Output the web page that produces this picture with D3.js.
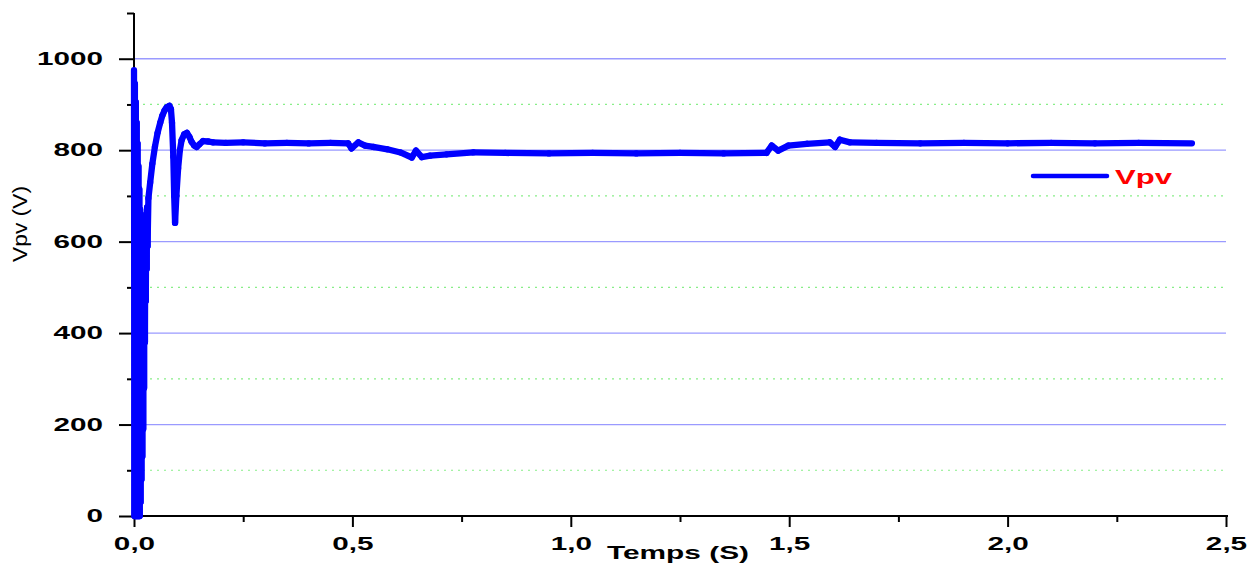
<!DOCTYPE html>
<html><head><meta charset="utf-8">
<script src="https://cdn.jsdelivr.net/npm/d3@7"></script>
<style>body{margin:0;background:#fff;} svg{display:block;}</style>
</head><body>
<svg id="c" width="1258" height="564"></svg>
<script>
// Vpv(t): t in s, Vpv in V
const time = [
  0,0.001,0.002,0.003,0.004,0.005,0.006,0.007,0.008,0.009,
  0.010,0.011,0.012,0.013,0.014,0.015,0.016,0.017,0.018,0.019,
  0.020,0.021,0.022,0.023,0.024,0.025,0.026,0.027,0.028,0.029,
  0.030,0.031,0.033,0.037,0.042,0.048,0.054,0.060,0.065,0.070,
  0.075,0.081,0.0845,0.087,0.090,0.092,0.094,0.097,0.101,0.105,
  0.109,0.115,0.121,0.127,0.132,0.138,0.1435,0.150,0.158,0.170,
  0.181,0.21,0.25,0.30,0.35,0.40,0.45,0.49,0.498,0.5135,
  0.529,0.548,0.58,0.61,0.636,0.6456,0.659,0.678,0.716,0.777,
  0.85,0.95,1.05,1.15,1.25,1.35,1.448,1.46,1.475,1.498,
  1.54,1.593,1.605,1.616,1.639,1.70,1.80,1.90,2.00,2.10,
  2.20,2.30,2.422];
const vpv = [
  975,0,945,0,905,0,860,0,815,0,
  765,0,715,0,670,30,640,80,630,130,
  630,190,635,280,640,380,650,470,660,540,
  675,590,695,729,770,808,838,860,876,887,
  894,897,890,860,786,700,641,700,760,800,
  822,835,838,829,818,810,807,813,820,819,
  817,816,817,815,816,815,816,815,804,817,
  810,807,802,795,784,799,785,788,791,795,
  794,793,794,793,794,793,794,810,799,810,
  814,817,807,823,817,816,815,816,815,816,
  815,816,815];
const xMajor = [0,0.5,1.0,1.5,2.0,2.5];
const xMinor = [0.25,0.75,1.25,1.75,2.25];
const xLabels = ["0,0","0,5","1,0","1,5","2,0","2,5"];
const yMajor = [0,200,400,600,800,1000];
const yMinor = [100,300,500,700,900,1100];
const seriesName = "Vpv";
const xTitle = "Temps (S)";
const yTitle = "Vpv (V)";

const svg = d3.select("#c");
const x = d3.scaleLinear().domain([0,2.5]).range([134,1226]);
const y = d3.scaleLinear().domain([0,1100]).range([516,13]);
const FONT = "'Liberation Sans', Arial, sans-serif";
const SX = 1.65;

// grid
svg.append("g").selectAll("line").data(yMinor.filter(v=>v<1100)).join("line")
  .attr("x1",x(0)+2).attr("x2",x(2.5)).attr("y1",d=>y(d)).attr("y2",d=>y(d))
  .attr("stroke","#88ee88").attr("stroke-width",1.2).attr("stroke-dasharray","2,5");
svg.append("g").selectAll("line").data(yMajor.filter(v=>v>0)).join("line")
  .attr("x1",x(0)).attr("x2",x(2.5)).attr("y1",d=>y(d)).attr("y2",d=>y(d))
  .attr("stroke","#9a9aff").attr("stroke-width",1.3);

// axes
const yAx = svg.append("g").attr("transform",`translate(${x(0)},0)`)
  .call(d3.axisLeft(y).tickValues(yMajor).tickSize(15).tickFormat(d3.format("d")));
yAx.select(".domain").remove();
yAx.selectAll(".tick line").attr("stroke","#000").attr("stroke-width",2);
yAx.selectAll(".tick text").attr("font-family",FONT).attr("font-weight","bold")
  .attr("font-size",18).attr("fill","#000").attr("x",-31/SX).attr("transform",`scale(${SX},1)`);
const yMin = svg.append("g").attr("transform",`translate(${x(0)},0)`)
  .call(d3.axisLeft(y).tickValues(yMinor).tickSize(7).tickFormat(""));
yMin.select(".domain").remove();
yMin.selectAll(".tick line").attr("stroke","#000").attr("stroke-width",2);

const xAx = svg.append("g").attr("transform",`translate(0,${y(0)})`)
  .call(d3.axisBottom(x).tickValues(xMajor).tickSize(11).tickFormat((d,i)=>xLabels[i]));
xAx.select(".domain").remove();
xAx.selectAll(".tick line").attr("stroke","#000").attr("stroke-width",2);
xAx.selectAll(".tick text").attr("font-family",FONT).attr("font-weight","bold")
  .attr("font-size",18).attr("fill","#000").attr("y",21).attr("transform",`scale(${SX},1)`);
const xMin = svg.append("g").attr("transform",`translate(0,${y(0)})`)
  .call(d3.axisBottom(x).tickValues(xMinor).tickSize(6).tickFormat(""));
xMin.select(".domain").remove();
xMin.selectAll(".tick line").attr("stroke","#000").attr("stroke-width",2);

svg.append("line").attr("x1",x(0)).attr("x2",x(0)).attr("y1",y(1100)).attr("y2",y(0)+1)
  .attr("stroke","#000").attr("stroke-width",2);
svg.append("line").attr("x1",x(0)-1).attr("x2",x(2.5)+2).attr("y1",y(0)).attr("y2",y(0))
  .attr("stroke","#000").attr("stroke-width",2);

// series: drawn segment by segment (round caps) so the dense start-up band fills solidly
const idx = d3.range(time.length - 1);
svg.append("g").selectAll("line").data(idx).join("line")
  .attr("x1",i=>x(time[i])).attr("y1",i=>y(vpv[i]))
  .attr("x2",i=>x(time[i+1])).attr("y2",i=>y(vpv[i+1]))
  .attr("stroke","#0000ff").attr("stroke-width",6.3).attr("stroke-linecap","round");

// titles
svg.append("text").text(xTitle).attr("x",607).attr("y",559)
  .attr("font-family",FONT).attr("font-weight","bold").attr("font-size",18)
  .attr("textLength",142).attr("lengthAdjust","spacingAndGlyphs");
svg.append("text").text(yTitle).attr("transform","translate(27,262) rotate(-90)")
  .attr("font-family",FONT).attr("font-size",20)
  .attr("textLength",76).attr("lengthAdjust","spacingAndGlyphs");

// legend
svg.append("line").attr("x1",1033).attr("x2",1107).attr("y1",176).attr("y2",176)
  .attr("stroke","#0000ff").attr("stroke-width",4.5).attr("stroke-linecap","round");
svg.append("text").text(seriesName).attr("x",1115).attr("y",184)
  .attr("font-family",FONT).attr("font-weight","bold").attr("font-size",20).attr("fill","#ff0000")
  .attr("textLength",57).attr("lengthAdjust","spacingAndGlyphs");
</script>
</body></html>
